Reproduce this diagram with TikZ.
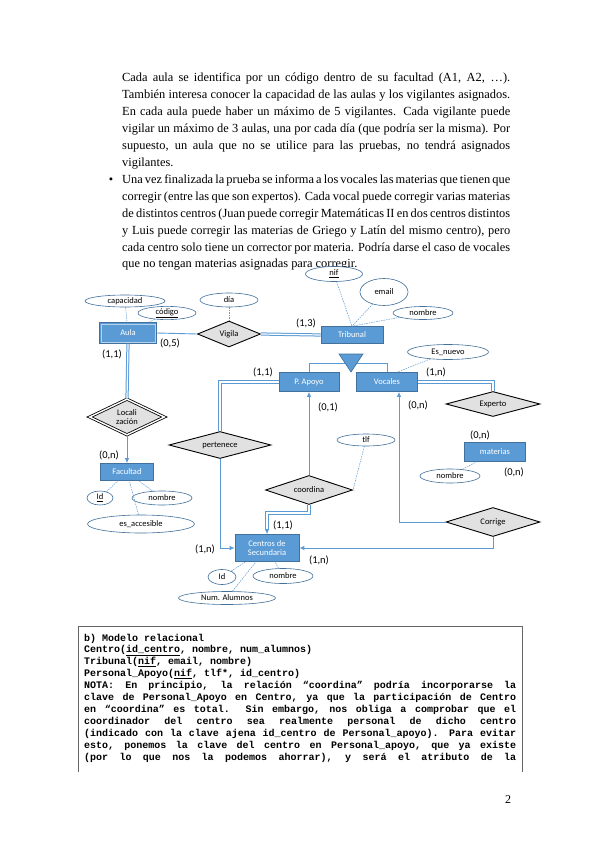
\documentclass[tikz,border=0pt]{standalone}
\usepackage{fontspec}
\setmainfont{Liberation Serif}
\newfontfamily\carl{Carlito}
\newfontfamily\codefont{Liberation Mono}
\usetikzlibrary{shapes.geometric,arrows.meta}
\definecolor{eblue}{RGB}{91,155,213}
\definecolor{eborder}{RGB}{65,113,156}
\definecolor{lblue}{RGB}{91,155,213}
\definecolor{rgray}{RGB}{225,225,225}
\begin{document}
\begin{tikzpicture}[x=1pt,y=-1pt,
 ent/.style={rectangle,fill=eblue,draw=eborder,line width=0.6pt,text=white,font=\carl\fontsize{8.5}{9.5}\selectfont,inner sep=0pt,align=center},
 rel/.style={diamond,aspect=3,fill=rgray,draw=black,line width=0.9pt,inner sep=0pt,font=\carl\fontsize{8.5}{9.5}\selectfont,align=center},
 attr/.style={ellipse,draw=eborder,fill=white,line width=0.6pt,inner sep=0pt,font=\carl\fontsize{8.5}{9.5}\selectfont},
 card/.style={font=\carl\fontsize{10.5}{12}\selectfont,inner sep=0pt},
 lnk/.style={draw=lblue,line width=0.9pt},
 arr/.style={lnk,-{Latex[length=5pt,width=4.5pt]}},
 dbl/.style={draw=lblue,line width=1pt,double=white,double distance=1.2pt},
 att/.style={draw=lblue,line width=0.5pt,dash pattern=on 1.5pt off 1pt},
]
\fill[white] (0,0) rectangle (599,848);
\useasboundingbox (0,0) rectangle (599,848);

% ---------- top text ----------
\node[anchor=base west,inner sep=0pt] (txt) at (122,82) {\parbox[t]{388pt}{\fontsize{12.4}{16.9}\selectfont
\hbox to 388pt{Cada aula se identifica por un código dentro de su facultad (A1, A2, …).}
\hbox to 388pt{También interesa conocer la capacidad de las aulas y los vigilantes asignados.}
\hbox to 388pt{En cada aula puede haber un máximo de 5 vigilantes. Cada vigilante  puede}
\hbox to 388pt{vigilar un máximo de 3 aulas, una por cada día (que podría ser la misma). Por}
\hbox to 388pt{supuesto, un aula que no se utilice para las pruebas, no tendrá asignados}
\hbox{vigilantes.}
\hbox to 388pt{\llap{•\hspace{9pt}}Una vez finalizada la prueba se informa a los vocales las materias que tienen que}
\hbox to 388pt{corregir (entre las que son expertos). Cada vocal puede corregir varias materias}
\hbox to 388pt{de distintos centros (Juan puede corregir Matemáticas II en dos centros distintos}
\hbox to 388pt{y Luis puede corregir las materias de Griego y Latín del mismo centro), pero}
\hbox to 388pt{cada centro solo tiene un corrector por materia. Podría darse el caso de vocales}
\hbox{que no tengan materias asignadas para corregir.}
}};

% ---------- entities ----------
\node[ent,minimum width=57pt,minimum height=21pt] (aula) at (128,333) {Aula};
\draw[white!55!eblue,line width=0.5pt] ([shift={(2pt,-2pt)}]aula.north west) rectangle ([shift={(-2pt,2pt)}]aula.south east);
\node[ent,minimum width=62pt,minimum height=17pt] (tribunal) at (352,335) {Tribunal};
\node[ent,minimum width=60pt,minimum height=19pt] (papoyo) at (309,382) {P. Apoyo};
\node[ent,minimum width=61pt,minimum height=19pt] (vocales) at (387,382) {Vocales};
\node[ent,minimum width=61pt,minimum height=19pt] (materias) at (495,452) {materias};
\node[ent,minimum width=53pt,minimum height=17pt] (facultad) at (127,472) {Facultad};
\node[ent,minimum width=64pt,minimum height=27pt] (centros) at (267,548) {Centros de\\Secundaria};

% ---------- relationships ----------
\node[rel,minimum width=63pt,minimum height=26pt] (vigila) at (229,334) {Vigila};
\node[rel,double,double distance=1.4pt,line width=0.8pt,minimum width=75pt,minimum height=36pt] (local) at (127,417) {Locali\\zación};
\node[rel,minimum width=102pt,minimum height=27pt] (pertenece) at (220,445) {pertenece};
\node[rel,minimum width=94pt,minimum height=25pt] (experto) at (493,404) {Experto};
\node[rel,minimum width=87pt,minimum height=29pt] (coordina) at (309,490) {coordina};
\node[rel,minimum width=94pt,minimum height=29pt] (corrige) at (493,522) {Corrige};

% ---------- attributes ----------
\node[attr,minimum width=80pt,minimum height=12pt] (capacidad) at (125,301) {capacidad};
\node[attr,minimum width=58pt,minimum height=13pt] (codigo) at (167,313) {\underline{código}};
\node[attr,minimum width=58pt,minimum height=14pt] (dia) at (229,300) {día};
\node[attr,minimum width=57pt,minimum height=15pt] (nif) at (334,274) {\underline{nif}};
\node[attr,minimum width=48pt,minimum height=27pt] (email) at (384,292) {email};
\node[attr,minimum width=60pt,minimum height=13pt] (nombret) at (423,313) {nombre};
\node[attr,minimum width=81pt,minimum height=15pt] (esnuevo) at (448,352) {Es\_nuevo};
\node[attr,minimum width=58pt,minimum height=12pt] (tlf) at (366,440) {tlf};
\node[attr,minimum width=60pt,minimum height=14pt] (nombrem) at (450,476) {nombre};
\node[attr,minimum width=26pt,minimum height=14pt] (idf) at (100,498) {\underline{Id}};
\node[attr,minimum width=60pt,minimum height=14pt] (nombref) at (162,498) {nombre};
\node[attr,minimum width=107pt,minimum height=18pt] (esacc) at (141,524) {es\_accesible};
\node[attr,minimum width=28pt,minimum height=15pt] (idc) at (222,577) {Id};
\node[attr,minimum width=60pt,minimum height=15pt] (nombrec) at (283,576) {nombre};
\node[attr,minimum width=97pt,minimum height=13pt] (numal) at (227,598) {Num. Alumnos};

% attribute links
\draw[att] (capacidad) -- (aula);
\draw[att] (codigo) -- (aula);
\draw[att] (dia) -- (vigila);
\draw[att] (nif) -- (tribunal.north);
\draw[att] (email) -- (tribunal.north);
\draw[att] (nombret) -- (tribunal.north);
\draw[att] (esnuevo) -- ([xshift=10pt]vocales.north);
\draw[att] (tlf) -- (coordina.east);
\draw[att] (nombrem) -- (materias);
\draw[att] (idf) -- (facultad);
\draw[att] (nombref) -- (facultad);
\draw[att] (esacc) -- (facultad);
\draw[att] (idc) -- (centros);
\draw[att] (nombrec) -- (centros);
\draw[att] (numal) -- (centros);

% ---------- relationship links ----------
\draw[lnk] (aula.east) -- (vigila.west);
\draw[dbl] (vigila.east) -- (tribunal.west);
\draw[dbl] (aula.south) -- (local.north);
\draw[arr] (local.south) -- (facultad.north);
\draw[lnk,line width=0.7pt] (papoyo.north) -- ++(0,-9) -| (vocales.north);
\filldraw[fill=eblue,draw=eborder,line width=0.6pt] (339,354) -- (363,354) -- (351,372) -- cycle;
\draw[dbl] (papoyo.west) -| (pertenece.north);
\draw[arr] (pertenece.south) |- (centros.west);
\draw[arr] (coordina.north) -- (papoyo.south);
\draw[dbl] (coordina.south) -- ++(0,8) -| ([yshift=5pt]centros.north);
\draw[arr] ([yshift=5pt]centros.north) -- (centros.north);
\draw[dbl] (vocales.east) -| (experto.north);
\draw[arr] (corrige.west) -| ([xshift=12pt]vocales.south);
\draw[arr] (corrige.south) |- (centros.east);

% ---------- cardinalities ----------
\node[card] (c1) at (170,343) {(0,5)};
\node[card] (c2) at (112,354) {(1,1)};
\node[card] (c3) at (306,323) {(1,3)};
\node[card] (c4) at (263,372) {(1,1)};
\node[card] (c5) at (436,372) {(1,n)};
\node[card] (c6) at (328,407) {(0,1)};
\node[card] (c7) at (418,405) {(0,n)};
\node[card] (c8) at (109,455) {(0,n)};
\node[card] (c9) at (480,435) {(0,n)};
\node[card] (c10) at (514,472) {(0,n)};
\node[card] (c11) at (283,525) {(1,1)};
\node[card] (c12) at (205,549) {(1,n)};
\node[card] (c13) at (319,560) {(1,n)};

% ---------- code box ----------
\draw[black!60,line width=0.9pt] (78,772) -- (78,626) -- (522,626) -- (522,772);
\node[anchor=base west,inner sep=0pt] (code) at (84,641) {\parbox[t]{432pt}{\codefont\bfseries\fontsize{10}{11.9}\selectfont
\fontdimen3\font=6pt \fontdimen4\font=0.5pt
\hbox{b) Modelo relacional}
\hbox{Centro(\underline{id\_centro}, nombre, num\_alumnos)}
\hbox{Tribunal(\underline{nif}, email, nombre)}
\hbox{Personal\_Apoyo(\underline{nif}, tlf*, id\_centro)}
\hbox to 432pt{NOTA: En principio, la relación “coordina” podría incorporarse la}
\hbox to 432pt{clave de Personal\_Apoyo en Centro, ya que la participación de Centro}
\hbox to 432pt{en “coordina” es total. Sin embargo, nos obliga a comprobar que el}
\hbox to 432pt{coordinador del centro sea realmente personal de dicho centro}
\hbox to 432pt{(indicado con la clave ajena id\_centro de Personal\_apoyo). Para evitar}
\hbox to 432pt{esto, ponemos la clave del centro en Personal\_apoyo, que ya existe}
\hbox to 432pt{(por lo que nos la podemos ahorrar), y será el atributo de la}
}};

\node[anchor=base,inner sep=0pt,font=\fontsize{12}{14}\selectfont] (pn) at (508,803) {2};
\end{tikzpicture}
\end{document}
